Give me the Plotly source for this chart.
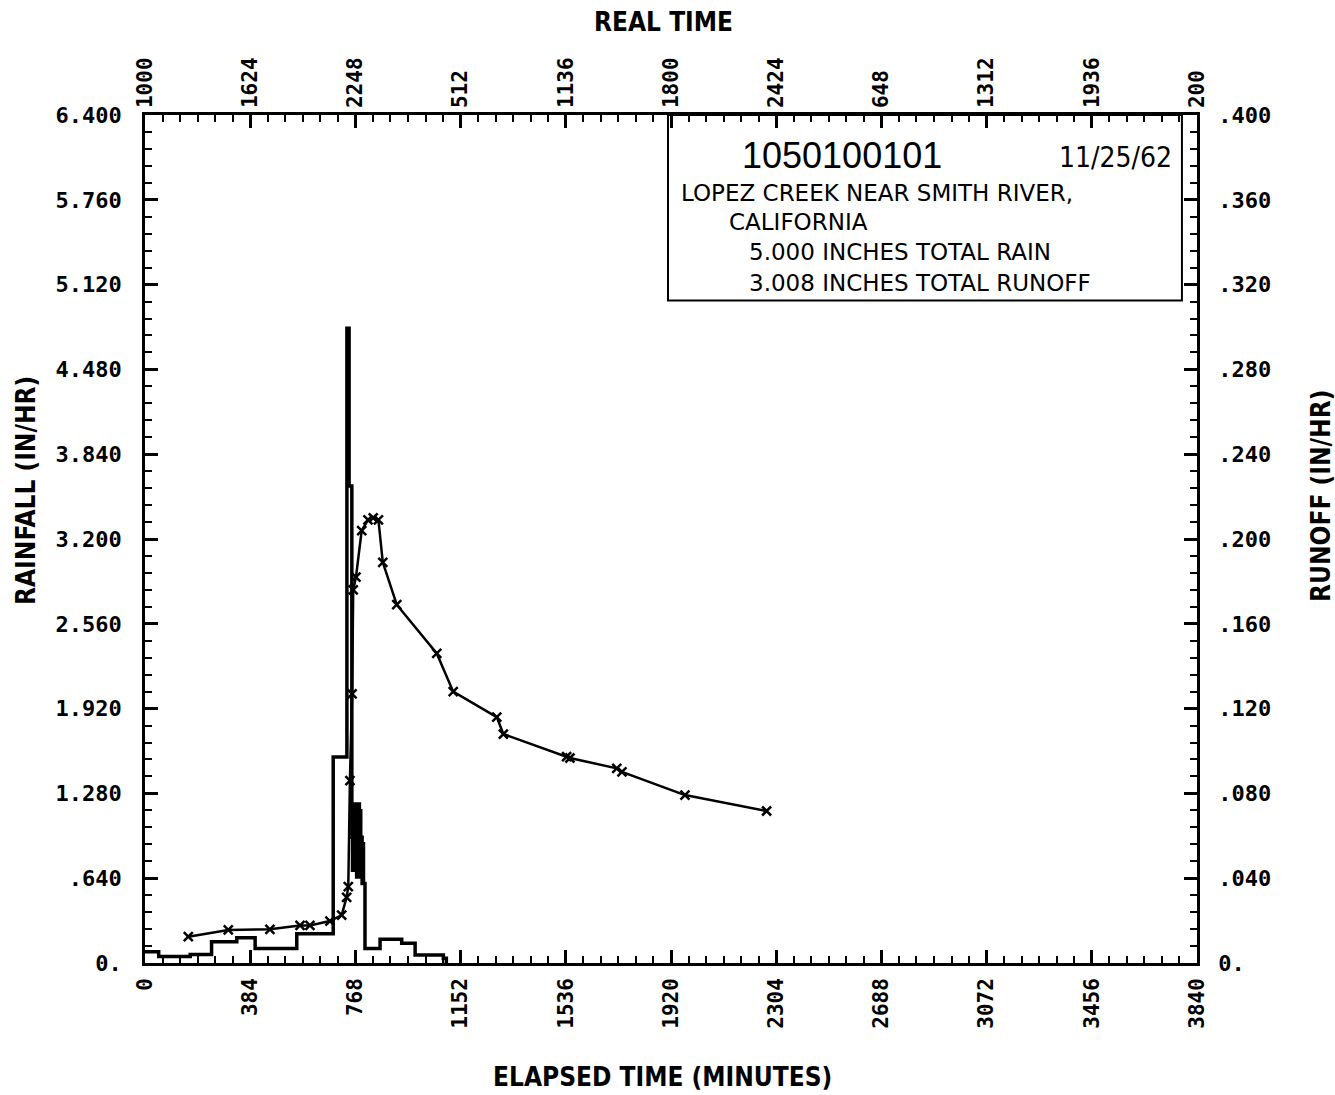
import plotly.graph_objects as go

# ---------------- data ----------------
# Rainfall hyetograph: start time of each interval (minutes) and intensity (in/hr)
rain_start_min = [0, 50, 165, 243, 335, 402, 554, 687, 737, 745,
                  755, 757.5, 760, 762.5, 765, 767.5, 770, 772.5, 775, 777.5,
                  780, 782.5, 785, 787.5, 790, 792.5, 795, 797.5,
                  803, 858, 937, 986, 1089]
rain_intensity = [0.085, 0.05, 0.065, 0.16, 0.19, 0.11, 0.22, 1.555, 4.79, 3.60,
                  0.95, 0.7, 1.0, 0.75, 1.2, 0.7, 1.2, 0.65, 1.2, 0.7,
                  1.2, 0.65, 1.15, 0.7, 0.95, 0.6, 0.9, 0.6,
                  0.11, 0.18, 0.15, 0.06, 0.035]
rain_end_min = 1100

# Runoff hydrograph (in/hr)
runoff_min = [158, 304, 456, 566, 602, 675, 718, 736, 742, 748, 756, 760, 770, 791, 814,
              833, 852, 868, 919, 1065, 1125, 1284, 1308, 1539, 1551, 1722, 1741, 1971, 2269]
runoff_rate = [0.0124, 0.0156, 0.0159, 0.0177, 0.0177, 0.0198, 0.0226, 0.031, 0.036, 0.086,
               0.127, 0.176, 0.182, 0.204, 0.209, 0.210, 0.209, 0.189, 0.169, 0.146, 0.128,
               0.116, 0.108, 0.0973, 0.0967, 0.0918, 0.0901, 0.0792, 0.0717]

elapsed_ticks = [0, 384, 768, 1152, 1536, 1920, 2304, 2688, 3072, 3456, 3840]
real_time_labels = ["1000", "1624", "2248", "512", "1136", "1800", "2424", "648",
                    "1312", "1936", "200"]
rain_ticks = [0, 0.64, 1.28, 1.92, 2.56, 3.2, 3.84, 4.48, 5.12, 5.76, 6.4]
rain_tick_labels = ["0.", ".640", "1.280", "1.920", "2.560", "3.200", "3.840",
                    "4.480", "5.120", "5.760", "6.400"]
runoff_ticks = [0, 0.04, 0.08, 0.12, 0.16, 0.2, 0.24, 0.28, 0.32, 0.36, 0.4]
runoff_tick_labels = ["0.", ".040", ".080", ".120", ".160", ".200", ".240", ".280",
                      ".320", ".360", ".400"]

station_id = "1050100101"
storm_date = "11/25/62"
station_name = ["LOPEZ CREEK NEAR SMITH RIVER,", "CALIFORNIA"]
total_rain = "5.000 INCHES TOTAL RAIN"
total_runoff = "3.008 INCHES TOTAL RUNOFF"

# ---------------- figure ----------------
W, H = 1335, 1095
L, R, T, B = 145, 138, 115, 132

rx = rain_start_min + [rain_end_min]
ry = rain_intensity + [0]

fig = go.Figure()
fig.add_trace(go.Scatter(x=rx, y=ry, mode="lines", line=dict(shape="hv", color="black", width=3.5),
                         xaxis="x", yaxis="y", showlegend=False, hoverinfo="skip"))
fig.add_trace(go.Scatter(x=runoff_min, y=runoff_rate, mode="lines+markers",
                         line=dict(color="black", width=2.5),
                         marker=dict(symbol="x-thin", size=9, color="black",
                                     line=dict(color="black", width=2.5)),
                         xaxis="x", yaxis="y2", showlegend=False, hoverinfo="skip"))
# invisible trace to activate top axis
fig.add_trace(go.Scatter(x=[0], y=[0], mode="markers", marker=dict(opacity=0),
                         xaxis="x2", yaxis="y", showlegend=False, hoverinfo="skip"))

tickfont = dict(family="DejaVu Sans Mono", size=21, color="black", weight="bold")
yfont = dict(family="DejaVu Sans Mono", size=22, color="black", weight="bold")
titlefont = dict(family="DejaVu Sans Condensed, DejaVu Sans", size=26, color="black",
                 weight="bold")

common_x = dict(range=[0, 3840], tickvals=elapsed_ticks, tickangle=-90, ticks="inside",
                ticklen=13, tickwidth=2.5, tickcolor="black", showgrid=False, zeroline=False,
                showline=True, linecolor="black", linewidth=2.5,
                minor=dict(dtick=64, tick0=0, ticks="inside", ticklen=7, tickwidth=2,
                           tickcolor="black", showgrid=False),
                tickfont=tickfont)

fig.update_layout(
    width=W, height=H,
    margin=dict(l=L, r=R, t=T, b=B),
    paper_bgcolor="white", plot_bgcolor="white",
    xaxis=dict(**common_x, ticktext=[str(v) for v in elapsed_ticks], side="bottom",
               ticklabelstandoff=4),
    xaxis2=dict(**common_x, ticktext=real_time_labels, side="top", overlaying="x"),
    yaxis=dict(range=[0, 6.4], tickvals=rain_ticks, ticktext=rain_tick_labels, ticks="inside",
               ticklen=13, tickwidth=2.5, tickcolor="black", showgrid=False, zeroline=False,
               showline=True, linecolor="black", linewidth=2.5, tickfont=yfont,
               ticklabelstandoff=16,
               minor=dict(dtick=0.128, tick0=0, ticks="inside", ticklen=7, tickwidth=2,
                          tickcolor="black", showgrid=False)),
    yaxis2=dict(range=[0, 0.4], tickvals=runoff_ticks, ticktext=runoff_tick_labels,
                ticks="inside", side="right", overlaying="y",
                ticklen=13, tickwidth=2.5, tickcolor="black", showgrid=False, zeroline=False,
                showline=True, linecolor="black", linewidth=2.5, tickfont=yfont,
                ticklabelstandoff=14,
                minor=dict(dtick=0.008, tick0=0, ticks="inside", ticklen=7, tickwidth=2,
                           tickcolor="black", showgrid=False)),
)

# information box (data coords)
box_x0 = 1909
box_x1 = 3785
box_y0 = 5.0
fig.add_shape(type="rect", xref="x", yref="y", x0=box_x0, x1=box_x1, y0=box_y0, y1=6.4,
              line=dict(color="black", width=2), fillcolor="rgba(0,0,0,0)")

def px2paper_x(px):
    return (px - L) / (W - L - R)

def px2paper_y(py):
    return (H - B - py) / (H - T - B)

# axis titles
fig.add_annotation(xref="paper", yref="paper", x=px2paper_x(663), y=px2paper_y(22),
                   text="REAL TIME", showarrow=False, font=titlefont,
                   xanchor="center", yanchor="middle")
fig.add_annotation(xref="paper", yref="paper", x=px2paper_x(662), y=px2paper_y(1077),
                   text="ELAPSED TIME (MINUTES)", showarrow=False, font=titlefont,
                   xanchor="center", yanchor="middle")
fig.add_annotation(xref="paper", yref="paper", x=px2paper_x(26), y=px2paper_y(491),
                   text="RAINFALL (IN/HR)", showarrow=False, font=titlefont, textangle=-90,
                   xanchor="center", yanchor="middle")
fig.add_annotation(xref="paper", yref="paper", x=px2paper_x(1321), y=px2paper_y(496),
                   text="RUNOFF (IN/HR)", showarrow=False, font=titlefont, textangle=-90,
                   xanchor="center", yanchor="middle")

boxfont = dict(family="DejaVu Sans", size=23, color="black")
ann = [
    (740, 155, station_id, dict(family="Liberation Sans", size=36, color="black")),
    (1057, 157, storm_date, dict(family="DejaVu Sans Condensed, DejaVu Sans", size=28,
                                 color="black")),
    (679, 193, station_name[0], boxfont),
    (727, 222, station_name[1], boxfont),
    (747, 252, total_rain, boxfont),
    (747, 283, total_runoff, boxfont),
]
for x, y, t, f in ann:
    fig.add_annotation(xref="paper", yref="paper", x=px2paper_x(x), y=px2paper_y(y), text=t,
                       showarrow=False, xanchor="left", yanchor="middle", font=f)

fig.write_html("out.html")
